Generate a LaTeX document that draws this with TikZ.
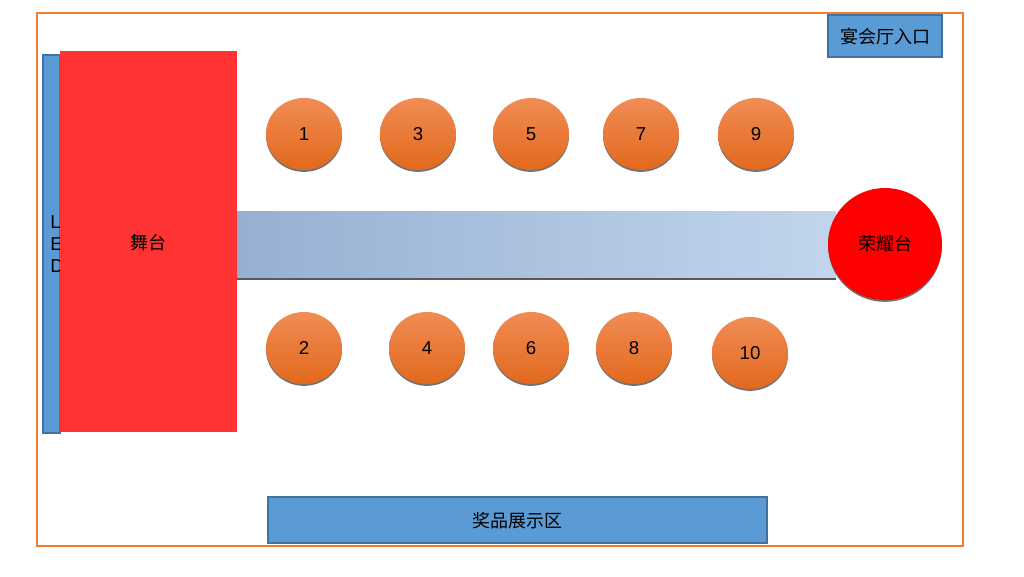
\documentclass[tikz,border=0pt]{standalone}
\usepackage{fontspec}
\setmainfont{Liberation Sans}
\newfontfamily\cjk{Noto Sans CJK SC}
\usetikzlibrary{shadows,shapes.geometric}
\definecolor{frameorange}{HTML}{ED7D31}
\definecolor{boxblue}{HTML}{5B9BD5}
\definecolor{boxblueedge}{HTML}{41719C}
\definecolor{stagered}{HTML}{FF3333}
\definecolor{tabletop}{HTML}{F08C55}
\definecolor{tablebot}{HTML}{E2691C}
\definecolor{runleft}{HTML}{97B0D2}
\definecolor{runright}{HTML}{C1D5EC}
\begin{document}
\begin{tikzpicture}[x=0.75pt,y=-0.75pt,
  every node/.style={font=\fontsize{14}{17}\selectfont},
  cjktext/.style={font=\fontsize{13.5}{16}\selectfont\cjk},
  bluebox/.style={draw=boxblueedge, fill=boxblue, line width=0.9pt},
  tbl/.style={ellipse, minimum width=57pt, minimum height=54pt, inner sep=0pt,
     top color=tabletop, bottom color=tablebot, draw=none,
     drop shadow={shadow xshift=0pt, shadow yshift=-1.4pt, fill=black!65, opacity=0.85}}
]
\useasboundingbox (0,0) rectangle (1024,576);
% outer frame
\draw[frameorange, line width=1pt] (37,13) rectangle (963,546);
% LED strip
\draw[bluebox] (43,55) rectangle (60,433);
\node[align=left, anchor=north west, inner sep=0pt, font=\fontsize{14}{16.5}\selectfont] (led) at (50,215) {L\\E\\D};
% stage
\fill[stagered] (60,51) rectangle (237,432);
\node[cjktext] (stage) at (148,243) {舞台};
% runway
\shade[left color=runleft, right color=runright] (237,211) rectangle (836,279);
\coordinate (rwl) at (237,279);
\coordinate (rwr) at (836,279);
\draw[black!65, line width=1.2pt] (rwl) -- (rwr);
% honor stage
\node[ellipse, minimum width=85.5pt, minimum height=84pt, inner sep=0pt, fill=red, draw=none,
  drop shadow={shadow xshift=0pt, shadow yshift=-1.4pt, fill=black!65, opacity=0.85}, cjktext] (honor) at (885,244) {荣耀台};
% tables
\node[tbl] (t1) at (304,134) {1};
\node[tbl] (t3) at (418,134) {3};
\node[tbl] (t5) at (531,134) {5};
\node[tbl] (t7) at (641,134) {7};
\node[tbl] (t9) at (756,134) {9};
\node[tbl] (t2) at (304,348) {2};
\node[tbl] (t4) at (427,348) {4};
\node[tbl] (t6) at (531,348) {6};
\node[tbl] (t8) at (634,348) {8};
\node[tbl] (t10) at (750,353) {10};
% entrance
\draw[bluebox] (828,15) rectangle (942,57);
\node[cjktext] (entrance) at (885,37) {宴会厅入口};
% prize area
\draw[bluebox] (268,497) rectangle (767,543);
\node[cjktext] (prize) at (517,521) {奖品展示区};
\end{tikzpicture}
\end{document}
